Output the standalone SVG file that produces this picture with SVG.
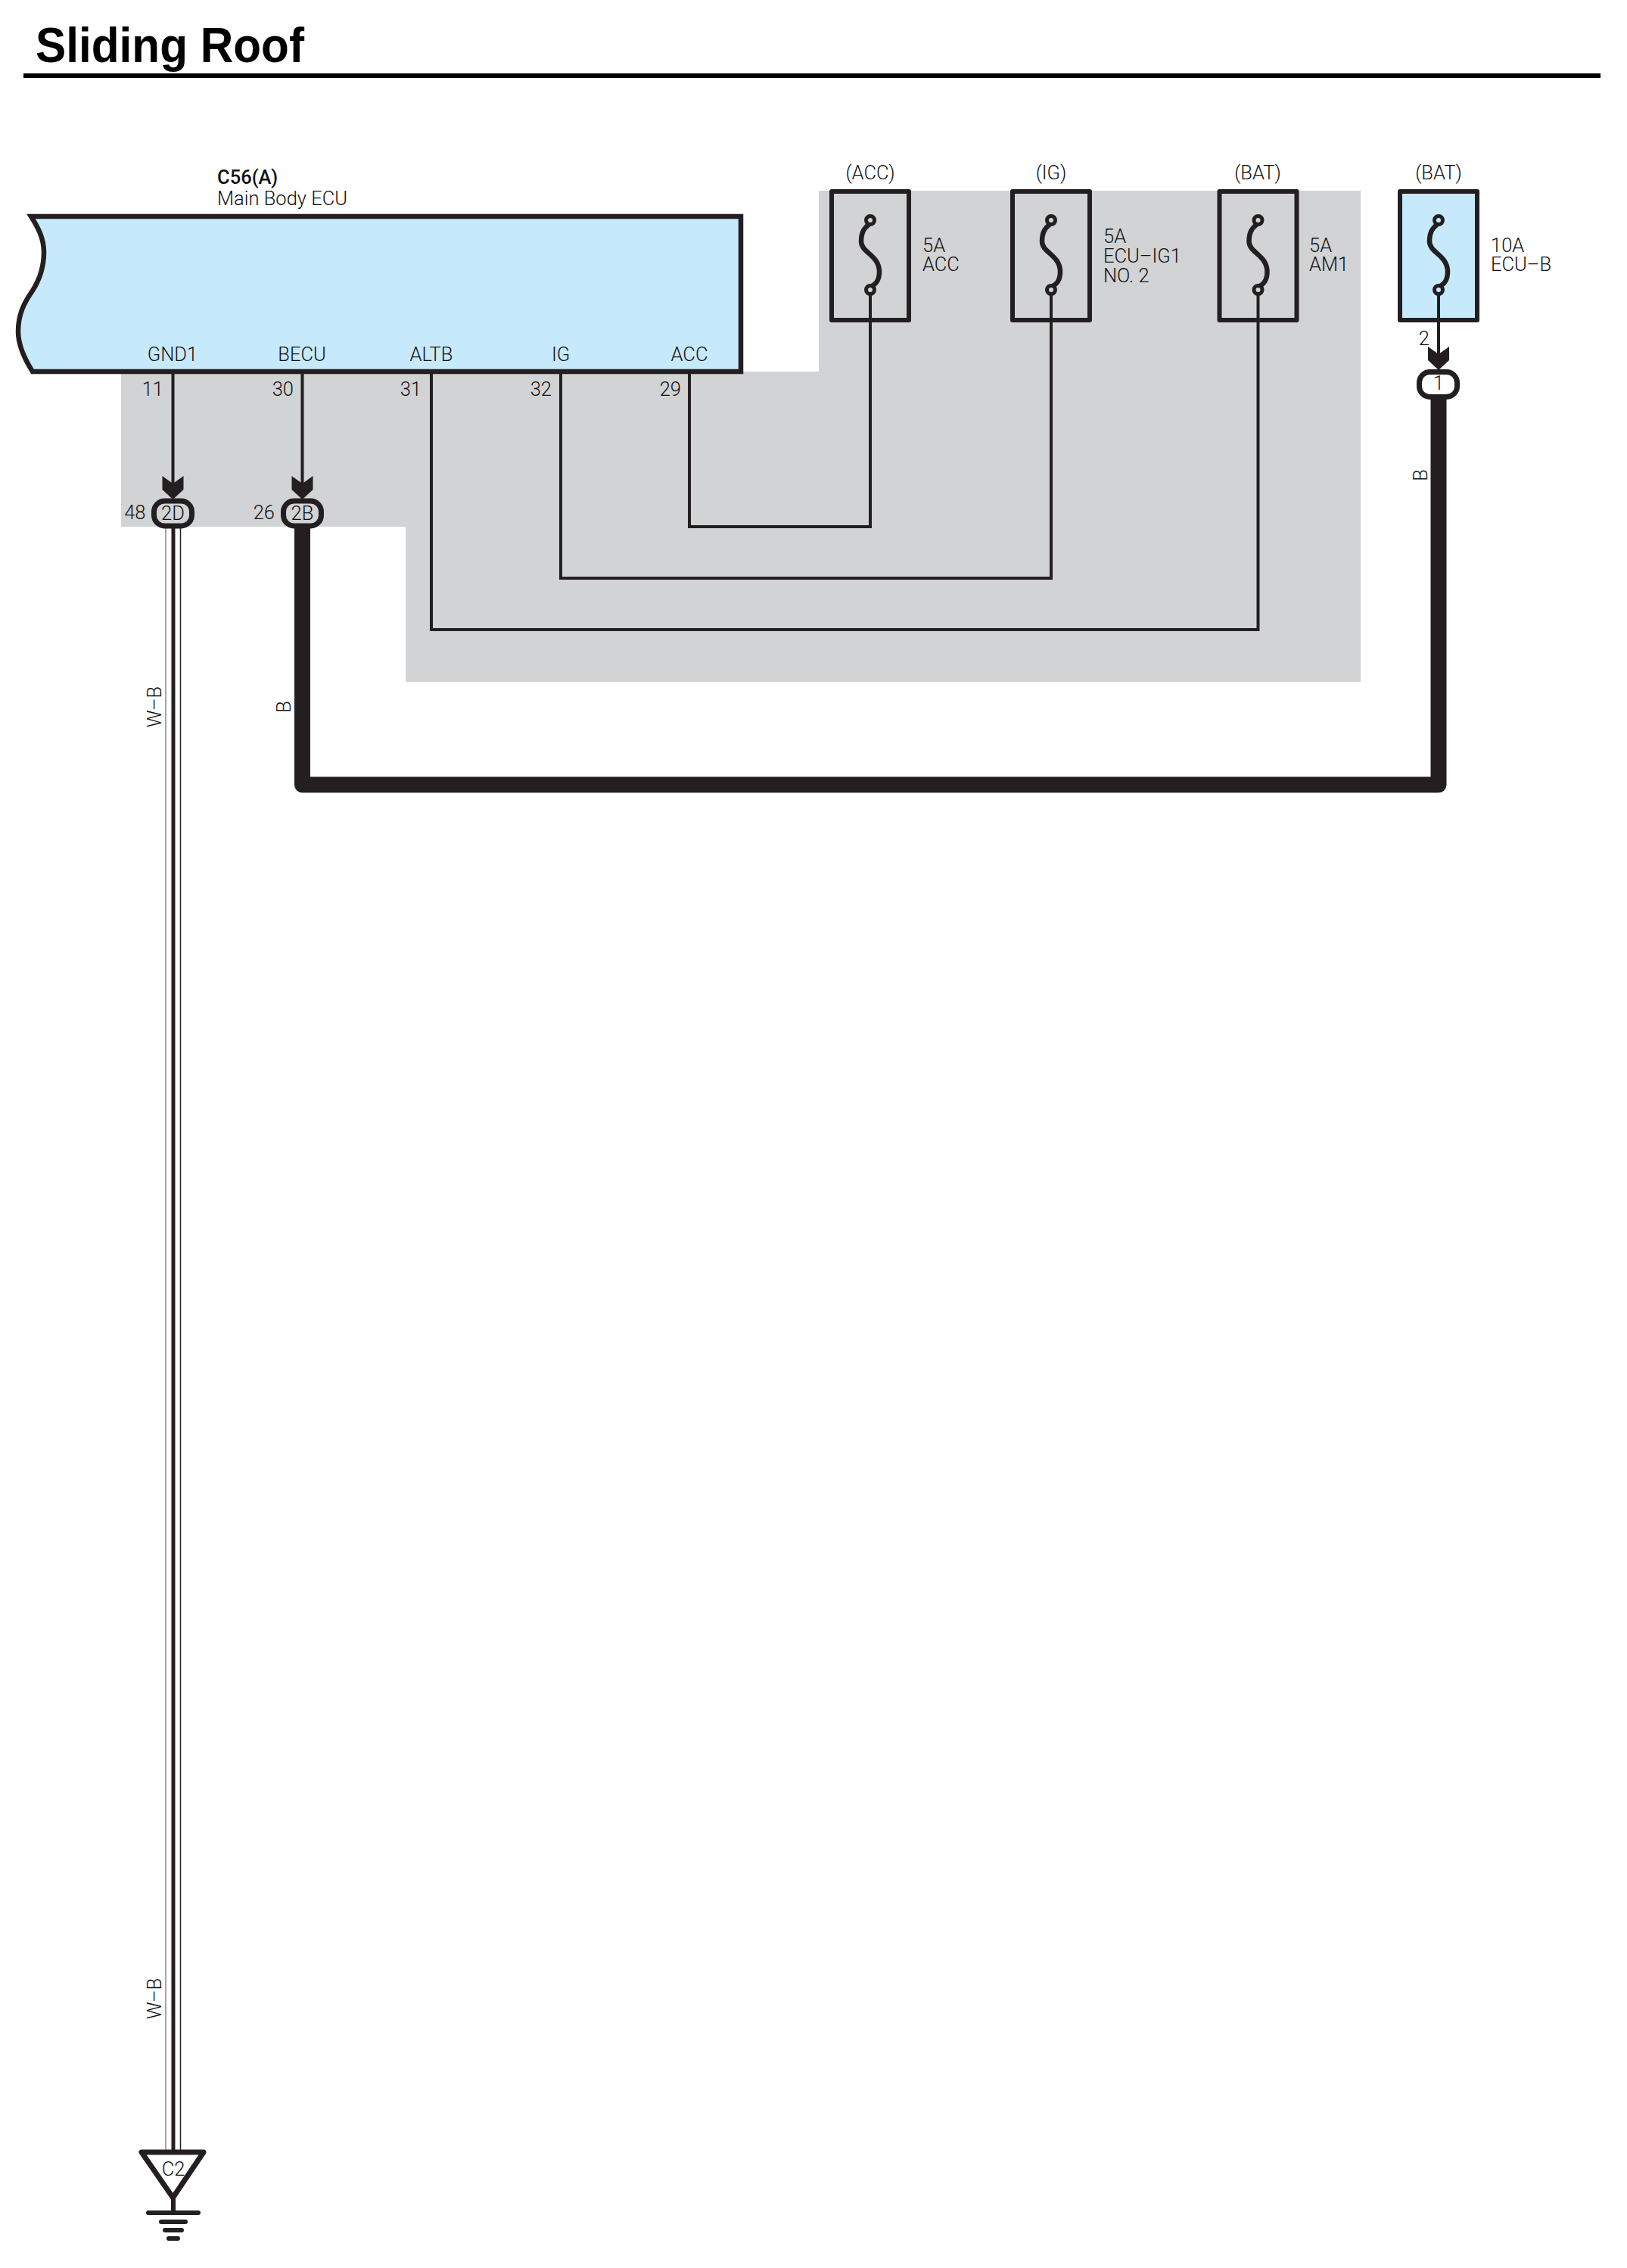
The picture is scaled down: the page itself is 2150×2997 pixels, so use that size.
<svg xmlns="http://www.w3.org/2000/svg" width="2150" height="2997" viewBox="0 0 2150 2997">
<style>
text{font-family:Roboto,"Liberation Sans",Arial,sans-serif;font-weight:300;font-size:25.500px;fill:#111}
.title{font-family:"Liberation Sans",Arial,sans-serif;font-size:65px;font-weight:bold;fill:#000}
.b{font-weight:500}
.m{text-anchor:middle}
.e{text-anchor:end}
.ln{fill:none;stroke:#231f20;stroke-linejoin:miter}
.w{stroke-width:4}
.fb{stroke-width:6;stroke-linejoin:round}
.thick{stroke-width:21;stroke-linejoin:round}
.oval{stroke:#231f20;stroke-width:7}
</style>
<defs>
<g id="fuseSym">
<path class="ln" stroke-width="6.500" d="M0,-42 C-4,-38 -12,-35 -12,-18 C-12,-3 12,0 12,22 C12,36 5,40 0,42"/>
</g>
<polygon id="arrow" points="-14,0 0,10 14,0 14,18 0,31 -14,18" fill="#231f20"/>
</defs>

<g id="title">
<text class="title" x="47" y="82" textLength="355" lengthAdjust="spacingAndGlyphs">Sliding Roof</text>
<rect x="31" y="97" width="2084" height="6" fill="#000"/>
</g>

<polygon id="shade" fill="#d1d3d4" points="160,491 1082,491 1082,252 1798,252 1798,901 536,901 536,696 160,696"/>

<g id="connectors">
<path class="ln w" d="M228.500,491V640"/>
<path class="ln w" d="M399.500,491V640"/>
<path class="ln w" d="M911,491V696H1150V380"/>
<path class="ln w" d="M741,491V764H1389V380"/>
<path class="ln w" d="M570,491V832H1662.500V380"/>
<path class="ln w" d="M1901,425V470"/>
<path class="ln thick" d="M399.500,695V1037H1901V525"/>
<g id="wb">
<rect x="219" y="698" width="19" height="2146" fill="#fff"/>
<path class="ln" style="stroke:#888" stroke-width="1.500" d="M219,698V2844"/>
<path class="ln" stroke-width="1.500" d="M238.500,698V2844"/>
<path class="ln" stroke-width="5" d="M229,698V2844"/>
</g>
</g>

<g id="ecu">
<path class="ln" style="fill:#c7e9fc" stroke-width="6.500" stroke-linejoin="round" d="M41,286H979V491H43C31,472 24,455 24,438C24,415 32,400 43,384C52,370 58,352 58,333C58,315 50,300 41,286Z"/>
<text class="b" x="287" y="243">C56(A)</text>
<text x="287" y="271">Main Body ECU</text>
<text class="m" x="228" y="477">GND1</text>
<text class="m" x="399" y="477">BECU</text>
<text class="m" x="570" y="477">ALTB</text>
<text class="m" x="741" y="477">IG</text>
<text class="m" x="911" y="477">ACC</text>
<text class="e" x="216" y="523">11</text>
<text class="e" x="388" y="523">30</text>
<text class="e" x="557" y="523">31</text>
<text class="e" x="729" y="523">32</text>
<text class="e" x="900" y="523">29</text>
</g>

<g id="fuse-acc">
<rect class="ln fb" x="1099" y="253" width="102" height="170"/>
<use href="#fuseSym" x="1150" y="337"/>
<circle cx="1150" cy="291" r="5.500" fill="#d1d3d4" stroke="#231f20" stroke-width="5"/>
<circle cx="1150" cy="383" r="5.500" fill="#d1d3d4" stroke="#231f20" stroke-width="5"/>
<text class="m" x="1150" y="237">(ACC)</text>
<text x="1219" y="333">5A</text>
<text x="1219" y="358">ACC</text>
</g>
<g id="fuse-ig">
<rect class="ln fb" x="1338" y="253" width="102" height="170"/>
<use href="#fuseSym" x="1389" y="337"/>
<circle cx="1389" cy="291" r="5.500" fill="#d1d3d4" stroke="#231f20" stroke-width="5"/>
<circle cx="1389" cy="383" r="5.500" fill="#d1d3d4" stroke="#231f20" stroke-width="5"/>
<text class="m" x="1389" y="237">(IG)</text>
<text x="1458" y="321">5A</text>
<text x="1458" y="347">ECU–IG1</text>
<text x="1458" y="373">NO. 2</text>
</g>
<g id="fuse-am1">
<rect class="ln fb" x="1611.500" y="253" width="102" height="170"/>
<use href="#fuseSym" x="1662.500" y="337"/>
<circle cx="1662.500" cy="291" r="5.500" fill="#d1d3d4" stroke="#231f20" stroke-width="5"/>
<circle cx="1662.500" cy="383" r="5.500" fill="#d1d3d4" stroke="#231f20" stroke-width="5"/>
<text class="m" x="1662" y="237">(BAT)</text>
<text x="1730" y="333">5A</text>
<text x="1730" y="358">AM1</text>
</g>
<g id="fuse-ecub">
<rect class="ln fb" style="fill:#c7e9fc" x="1850" y="253" width="102" height="170"/>
<use href="#fuseSym" x="1901" y="337"/>
<circle cx="1901" cy="291" r="5.500" fill="#c7e9fc" stroke="#231f20" stroke-width="5"/>
<circle cx="1901" cy="383" r="5.500" fill="#c7e9fc" stroke="#231f20" stroke-width="5"/>
<path class="ln w" d="M1901,389V426"/>
<text class="m" x="1901" y="237">(BAT)</text>
<text x="1970" y="333">10A</text>
<text x="1970" y="358">ECU–B</text>
</g>

<g id="conn-2D">
<use href="#arrow" x="228.500" y="629"/>
<rect class="oval" fill="#d1d3d4" x="203.500" y="662" width="50" height="33" rx="14"/>
<text class="m" x="228.500" y="687">2D</text>
<text class="e" x="192.500" y="686">48</text>
</g>
<g id="conn-2B">
<use href="#arrow" x="399.500" y="629"/>
<rect class="oval" fill="#d1d3d4" x="374.500" y="662" width="50" height="33" rx="14"/>
<text class="m" x="399.500" y="687">2B</text>
<text class="e" x="363" y="686">26</text>
</g>
<g id="conn-1">
<use href="#arrow" x="1901" y="458"/>
<rect class="oval" fill="#fff" x="1875.500" y="491.500" width="50" height="33" rx="14"/>
<text class="m" x="1901" y="515">1</text>
<text class="e" x="1889" y="456">2</text>
</g>

<g id="wire-labels">
<text class="m" transform="translate(213,934) rotate(-90)">W–B</text>
<text class="m" transform="translate(213,2641) rotate(-90)">W–B</text>
<text class="m" transform="translate(384,934) rotate(-90)">B</text>
<text class="m" transform="translate(1886,628) rotate(-90)">B</text>
</g>

<g id="ground">
<polygon points="187,2844 269,2844 228.500,2904" fill="#fff" stroke="#231f20" stroke-width="7" stroke-linejoin="round"/>
<text class="m" x="229" y="2875">C2</text>
<path class="ln" stroke-width="6" stroke-linecap="round" d="M229,2906V2924M196,2924H262M213,2936H245M218,2947H240M223,2958H235"/>
</g>
</svg>
